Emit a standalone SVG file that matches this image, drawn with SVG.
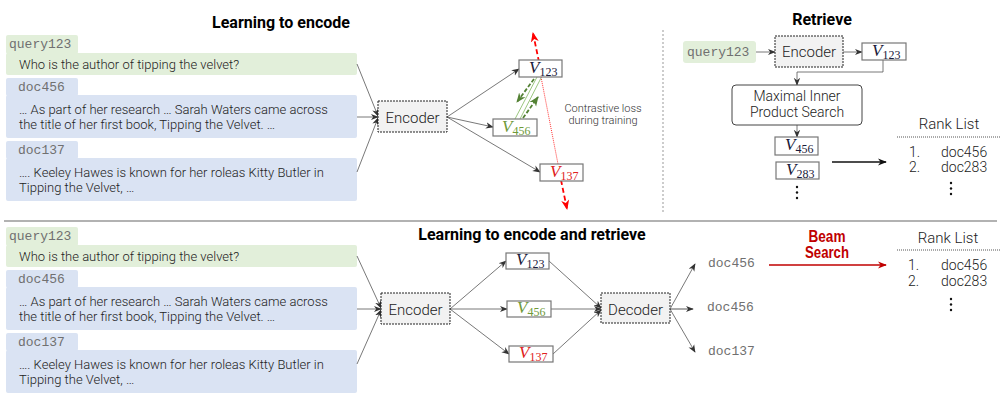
<svg xmlns="http://www.w3.org/2000/svg" width="1000" height="419" viewBox="0 0 1000 419">
<style>
.title{font-family:Roboto,"Liberation Sans",sans-serif;font-weight:700;font-size:16px;fill:#000;text-anchor:middle}
.body{font-family:Roboto,"Liberation Sans",sans-serif;font-weight:300;font-size:13px;fill:#222}
.mono{font-family:"Liberation Mono","DejaVu Sans Mono",monospace;font-size:13px;fill:#707070}
.lbl{font-family:Roboto,"Liberation Sans",sans-serif;font-weight:300;font-size:15px;fill:#222;text-anchor:middle}
.q{fill:#e2efda}
.d{fill:#dae3f3}
.enc{fill:#f2f2f2;stroke:#222;stroke-width:1;stroke-dasharray:2,1}
.vbox{fill:#fff;stroke:#777;stroke-width:1.2}
.v{font-family:"Liberation Serif","DejaVu Serif",serif;font-size:17px;font-style:italic}
.sub{font-family:"Liberation Serif","DejaVu Serif",serif;font-size:12px}
.c{fill:none;stroke:#555;stroke-width:0.8}
.rank{font-family:Roboto,"Liberation Sans",sans-serif;font-weight:300;font-size:14px;fill:#222}
.beam{font-family:"Liberation Sans",Arial,sans-serif;font-weight:700;font-size:16px;fill:#c00000;text-anchor:middle}
.ctr{font-family:Roboto,"Liberation Sans",sans-serif;font-weight:300;font-size:11px;fill:#333;text-anchor:middle}
</style>
<defs>
<marker id="ah" viewBox="0 0 10 10" refX="9" refY="5" markerWidth="8" markerHeight="8" markerUnits="userSpaceOnUse" orient="auto"><path d="M0,1 L10,5 L0,9 L3,5 z" fill="#333"/></marker>
<marker id="ahb" viewBox="0 0 10 10" refX="9" refY="5" markerWidth="9" markerHeight="9" markerUnits="userSpaceOnUse" orient="auto"><path d="M0,1 L10,5 L0,9 L3,5 z" fill="#111"/></marker>
<marker id="ahr" viewBox="0 0 10 10" refX="9" refY="5" markerWidth="10" markerHeight="10" markerUnits="userSpaceOnUse" orient="auto"><path d="M0,1 L10,5 L0,9 L3,5 z" fill="#ff0000"/></marker>
<marker id="ahdr" viewBox="0 0 10 10" refX="9" refY="5" markerWidth="9" markerHeight="9" markerUnits="userSpaceOnUse" orient="auto"><path d="M0,1 L10,5 L0,9 L3,5 z" fill="#c00000"/></marker>
<marker id="ahg" viewBox="0 0 10 10" refX="9" refY="5" markerWidth="10" markerHeight="10" markerUnits="userSpaceOnUse" orient="auto"><path d="M0,1 L10,5 L0,9 L3,5 z" fill="#548235"/></marker>
</defs>
<rect width="1000" height="419" fill="#fff"/>

<!-- separators -->
<line x1="663" y1="30" x2="663" y2="213" stroke="#999" stroke-width="1" stroke-dasharray="2,2"/>
<line x1="4" y1="221" x2="997" y2="221" stroke="#999" stroke-width="1.5"/>

<!-- titles -->
<text class="title" x="281" y="28">Learning to encode</text>
<text class="title" x="822" y="25">Retrieve</text>
<text class="title" x="532" y="240">Learning to encode and retrieve</text>

<!-- TOP inputs -->
<g id="t-query">
<rect class="q" x="6" y="35" width="72" height="19" rx="2"/>
<rect class="q" x="6" y="53" width="351" height="22" rx="2"/>
<text class="mono" x="9" y="48">query123</text>
<text class="body" x="19" y="69">Who is the author of tipping the velvet?</text>
</g>
<g id="t-doc456">
<rect class="d" x="6" y="78" width="72" height="18" rx="2"/>
<rect class="d" x="6" y="95" width="351" height="43" rx="2"/>
<text class="mono" x="18" y="91">doc456</text>
<text class="body" x="19" y="114">… As part of her research … Sarah Waters came across</text>
<text class="body" x="19" y="129">the title of her first book, Tipping the Velvet. …</text>
</g>
<g id="t-doc137">
<rect class="d" x="6" y="141" width="72" height="18" rx="2"/>
<rect class="d" x="6" y="158" width="351" height="43" rx="2"/>
<text class="mono" x="18" y="154">doc137</text>
<text class="body" x="19" y="177">….  Keeley Hawes is known for her roleas Kitty Butler in</text>
<text class="body" x="19" y="192">Tipping the Velvet, …</text>
</g>

<!-- TOP connectors -->
<g id="t-connectors">
<line class="c" x1="357" y1="64" x2="378" y2="116" marker-end="url(#ah)"/>
<line class="c" x1="357" y1="117" x2="378" y2="117" marker-end="url(#ah)"/>
<line class="c" x1="357" y1="172" x2="378" y2="118" marker-end="url(#ah)"/>
<line class="c" x1="447" y1="117" x2="519" y2="69" marker-end="url(#ah)"/>
<line class="c" x1="447" y1="117" x2="493" y2="127" marker-end="url(#ah)"/>
<line class="c" x1="447" y1="117" x2="540" y2="172" marker-end="url(#ah)"/>
<line x1="541" y1="77" x2="558" y2="164" stroke="#ff0000" stroke-width="0.8" stroke-dasharray="1,1"/>
<line x1="539" y1="62" x2="533" y2="33" stroke="#ff0000" stroke-width="1.8" stroke-dasharray="5,3" marker-end="url(#ahr)"/>
<line x1="561" y1="180" x2="567" y2="209" stroke="#ff0000" stroke-width="1.8" stroke-dasharray="5,3" marker-end="url(#ahr)"/>
<line x1="515" y1="119" x2="537" y2="77" stroke="#70ad47" stroke-width="0.7"/>
<line x1="520" y1="119" x2="541" y2="78" stroke="#70ad47" stroke-width="0.7"/>
<line x1="534" y1="79" x2="517" y2="102" stroke="#548235" stroke-width="1.8" stroke-dasharray="4,2" marker-end="url(#ahg)"/>
<line x1="523" y1="118" x2="538" y2="97" stroke="#548235" stroke-width="1.8" stroke-dasharray="4,2" marker-end="url(#ahg)"/>
</g>

<g id="t-encoder">
<rect class="enc" x="378" y="101" width="69" height="31"/>
<text class="lbl" x="412.5" y="123">Encoder</text>
</g>
<g id="t-v123">
<rect class="vbox" x="519" y="60" width="43" height="17"/>
<text x="529" y="73" fill="#1a1a3a"><tspan class="v">V</tspan><tspan class="sub" dy="3">123</tspan></text>
</g>
<g id="t-v456">
<rect class="vbox" x="493" y="119" width="44" height="17"/>
<text x="502" y="132" fill="#6f9a3a"><tspan class="v">V</tspan><tspan class="sub" dy="3">456</tspan></text>
</g>
<g id="t-v137">
<rect class="vbox" x="540" y="164" width="43" height="17"/>
<text x="550" y="177" fill="#e02020"><tspan class="v">V</tspan><tspan class="sub" dy="3">137</tspan></text>
</g>
<g id="t-contrastive">
<text class="ctr" x="603" y="112">Contrastive loss</text>
<text class="ctr" x="603" y="124">during training</text>
</g>

<!-- RETRIEVE -->
<g id="r-connectors">
<line class="c" x1="756" y1="52" x2="775" y2="52" marker-end="url(#ah)"/>
<line class="c" x1="843" y1="52" x2="862" y2="52" marker-end="url(#ah)"/>
<polyline class="c" points="883,60 883,72 797,72 797,85" marker-end="url(#ah)"/>
<line class="c" x1="797" y1="125" x2="797" y2="137" marker-end="url(#ah)"/>
<line x1="832" y1="162" x2="886" y2="162" stroke="#111" stroke-width="1.5" marker-end="url(#ahb)"/>
</g>
<g id="r-query">
<rect class="q" x="683" y="41" width="73" height="22" rx="3"/>
<text class="mono" x="687" y="56">query123</text>
</g>
<g id="r-encoder">
<rect class="enc" x="775" y="36" width="68" height="31"/>
<text class="lbl" x="809" y="57">Encoder</text>
</g>
<g id="r-v123">
<rect class="vbox" x="862" y="43" width="44" height="17"/>
<text x="872" y="56" fill="#1a1a3a"><tspan class="v">V</tspan><tspan class="sub" dy="3">123</tspan></text>
</g>
<g id="r-mips">
<rect x="732" y="85" width="130" height="40" rx="4" fill="#fff" stroke="#444" stroke-width="1"/>
<text class="lbl" x="797" y="100.5" style="font-size:14px">Maximal Inner</text>
<text class="lbl" x="797" y="116.5" style="font-size:14px">Product Search</text>
</g>
<g id="r-v456">
<rect class="vbox" x="775" y="137" width="43" height="18"/>
<text x="785" y="150" fill="#1a1a3a"><tspan class="v">V</tspan><tspan class="sub" dy="3">456</tspan></text>
</g>
<g id="r-v283">
<rect class="vbox" x="776" y="162" width="43" height="17"/>
<text x="786" y="175" fill="#1a1a3a"><tspan class="v">V</tspan><tspan class="sub" dy="3">283</tspan></text>
</g>
<g id="r-dots" fill="#111">
<circle cx="797" cy="187" r="1.2"/><circle cx="797" cy="192.5" r="1.2"/><circle cx="797" cy="198" r="1.2"/>
</g>
<g id="r-rank">
<text class="lbl" x="949" y="129">Rank List</text>
<line x1="897" y1="137" x2="1000" y2="137" stroke="#555" stroke-width="1" stroke-dasharray="1,1"/>
<text class="rank" x="909" y="157">1.</text>
<text class="rank" x="941" y="157">doc456</text>
<text class="rank" x="909" y="172">2.</text>
<text class="rank" x="941" y="172">doc283</text>
<circle cx="951" cy="183" r="1.2" fill="#111"/><circle cx="951" cy="188.5" r="1.2" fill="#111"/><circle cx="951" cy="194" r="1.2" fill="#111"/>
</g>

<!-- BOTTOM inputs -->
<g id="b-query">
<rect class="q" x="6" y="227" width="72" height="19" rx="2"/>
<rect class="q" x="6" y="245" width="351" height="22" rx="2"/>
<text class="mono" x="9" y="240">query123</text>
<text class="body" x="19" y="261">Who is the author of tipping the velvet?</text>
</g>
<g id="b-doc456">
<rect class="d" x="6" y="270" width="72" height="18" rx="2"/>
<rect class="d" x="6" y="287" width="351" height="43" rx="2"/>
<text class="mono" x="18" y="283">doc456</text>
<text class="body" x="19" y="306">… As part of her research … Sarah Waters came across</text>
<text class="body" x="19" y="321">the title of her first book, Tipping the Velvet. …</text>
</g>
<g id="b-doc137">
<rect class="d" x="6" y="333" width="72" height="18" rx="2"/>
<rect class="d" x="6" y="350" width="351" height="43" rx="2"/>
<text class="mono" x="18" y="346">doc137</text>
<text class="body" x="19" y="369">….  Keeley Hawes is known for her roleas Kitty Butler in</text>
<text class="body" x="19" y="384">Tipping the Velvet, …</text>
</g>

<!-- BOTTOM connectors -->
<g id="b-connectors">
<line class="c" x1="357" y1="256" x2="381" y2="308" marker-end="url(#ah)"/>
<line class="c" x1="357" y1="309" x2="381" y2="309" marker-end="url(#ah)"/>
<line class="c" x1="357" y1="364" x2="381" y2="310" marker-end="url(#ah)"/>
<line class="c" x1="450" y1="309" x2="506" y2="261" marker-end="url(#ah)"/>
<line class="c" x1="450" y1="309" x2="507" y2="309" marker-end="url(#ah)"/>
<line class="c" x1="450" y1="309" x2="509" y2="354" marker-end="url(#ah)"/>
<line class="c" x1="549" y1="261" x2="601" y2="308" marker-end="url(#ah)"/>
<line class="c" x1="551" y1="309" x2="601" y2="309" marker-end="url(#ah)"/>
<line class="c" x1="553" y1="354" x2="601" y2="310" marker-end="url(#ah)"/>
<line class="c" x1="670" y1="309" x2="695" y2="264" marker-end="url(#ah)"/>
<line x1="670" y1="309" x2="693" y2="309" stroke="#aaa" stroke-width="2" marker-end="url(#ah)"/>
<line class="c" x1="670" y1="309" x2="695" y2="352" marker-end="url(#ah)"/>
<line x1="769" y1="265" x2="886" y2="265" stroke="#c00000" stroke-width="1.5" marker-end="url(#ahdr)"/>
</g>
<g id="b-encoder">
<rect class="enc" x="381" y="293" width="69" height="31"/>
<text class="lbl" x="415.5" y="315">Encoder</text>
</g>
<g id="b-v123">
<rect class="vbox" x="506" y="253" width="43" height="16"/>
<text x="516" y="265" fill="#1a1a3a"><tspan class="v">V</tspan><tspan class="sub" dy="3">123</tspan></text>
</g>
<g id="b-v456">
<rect class="vbox" x="507" y="301" width="44" height="16"/>
<text x="517" y="313" fill="#6f9a3a"><tspan class="v">V</tspan><tspan class="sub" dy="3">456</tspan></text>
</g>
<g id="b-v137">
<rect class="vbox" x="509" y="346" width="44" height="16"/>
<text x="519" y="358" fill="#e02020"><tspan class="v">V</tspan><tspan class="sub" dy="3">137</tspan></text>
</g>
<g id="b-decoder">
<rect class="enc" x="601" y="293" width="69" height="30"/>
<text class="lbl" x="635.5" y="315">Decoder</text>
</g>
<g id="b-outputs">
<text class="mono" x="708" y="267">doc456</text>
<text class="mono" x="707" y="311">doc456</text>
<text class="mono" x="708" y="355">doc137</text>
</g>
<g id="b-beam">
<text class="beam" x="827" y="242" textLength="37" lengthAdjust="spacingAndGlyphs">Beam</text>
<text class="beam" x="827" y="258" textLength="44" lengthAdjust="spacingAndGlyphs">Search</text>
</g>
<g id="b-rank">
<text class="lbl" x="948" y="243">Rank List</text>
<line x1="897" y1="250" x2="1000" y2="250" stroke="#555" stroke-width="1" stroke-dasharray="1,1"/>
<text class="rank" x="908" y="270">1.</text>
<text class="rank" x="941" y="270">doc456</text>
<text class="rank" x="908" y="286">2.</text>
<text class="rank" x="941" y="286">doc283</text>
<circle cx="951" cy="299" r="1.2" fill="#111"/><circle cx="951" cy="304.5" r="1.2" fill="#111"/><circle cx="951" cy="310" r="1.2" fill="#111"/>
</g>
</svg>
